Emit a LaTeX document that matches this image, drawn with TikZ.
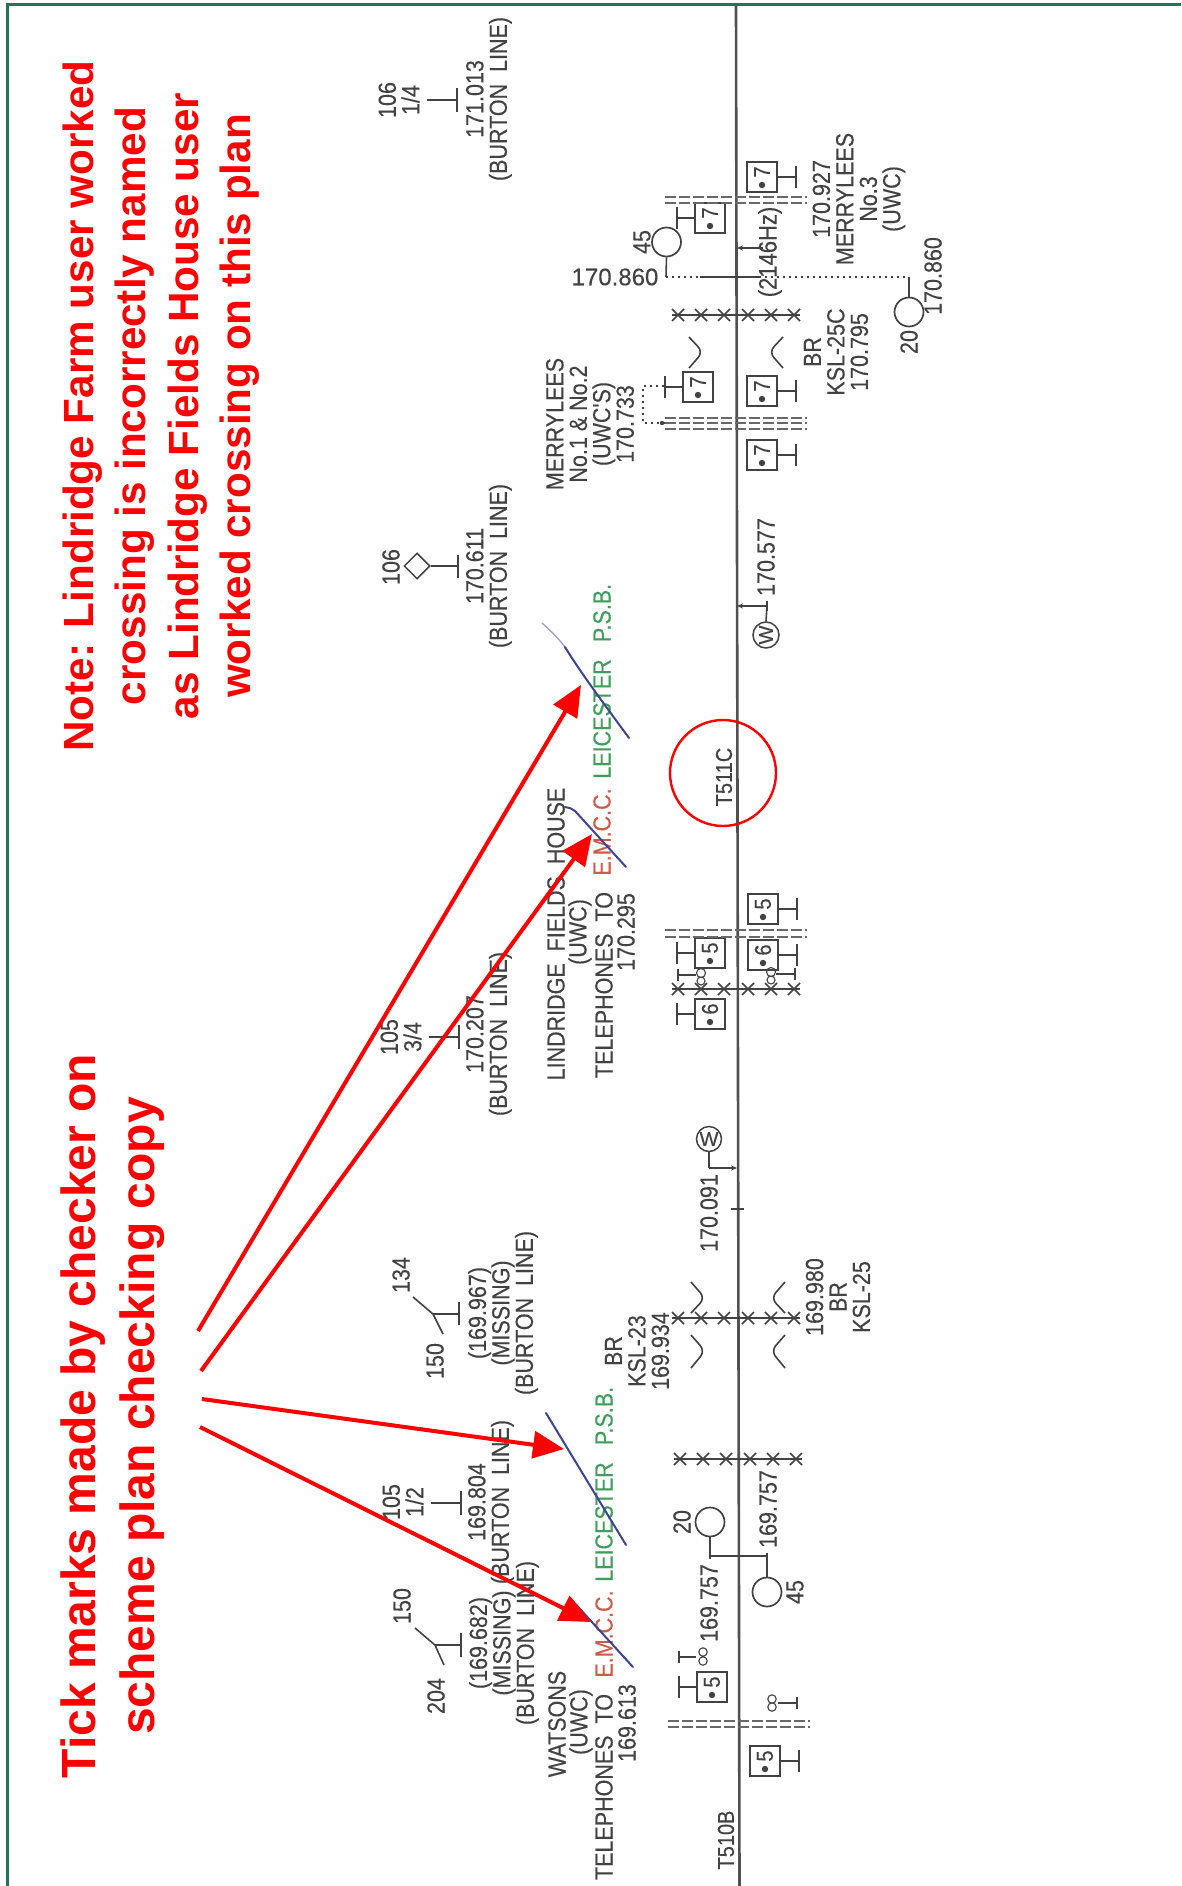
\documentclass[tikz,border=0pt]{standalone}
\usepackage{fontspec}
\setmainfont{Liberation Sans}
\newfontfamily\planfont[FakeBold=0.25]{Liberation Sans}
\usetikzlibrary{arrows.meta,shapes.geometric}
\definecolor{frameg}{HTML}{167A55}
\definecolor{ink}{HTML}{424242}
\definecolor{trk}{HTML}{505050}
\definecolor{psb}{HTML}{3F9E5C}
\definecolor{emcc}{HTML}{CF5A48}
\definecolor{tick}{HTML}{3D4590}
\tikzset{
  lbl/.style={xscale=1.15,rotate=90,align=center,inner sep=0pt,text=ink,font=\planfont\fontsize{21.5}{20.4}\selectfont},
  lblsm/.style={lbl,font=\planfont\fontsize{20}{20}\selectfont},
  hlbl/.style={inner sep=0pt,text=ink,font=\planfont\fontsize{24}{26}\selectfont},
  note/.style={rotate=90,align=center,inner sep=0pt,text=red,font=\fontsize{42.2}{52.5}\selectfont\bfseries},
  sym/.style={draw=ink,line width=1.6pt},
  sbox/.style={draw=ink,line width=1.7pt,minimum size=30pt,inner sep=0pt,rectangle},
  disc/.style={draw=ink,line width=1.7pt,ellipse,minimum width=29pt,minimum height=29pt,inner sep=0pt},
  wdisc/.style={draw=ink,line width=1.5pt,circle,minimum size=26pt,inner sep=0pt,font=\planfont\fontsize{20}{20}\selectfont,text=ink},
  gaugeline/.style={draw=ink!80,line width=1.6pt,dash pattern=on 11pt off 3pt},
  dots/.style={draw=ink,line width=1.5pt,dash pattern=on 2pt off 4pt},
  feedtip/.style={-{Stealth[length=6pt,width=5pt]}},
  bluetick/.style={draw=tick,line width=2pt,line cap=round},
  redarrow/.style={draw=red,line width=4pt,-{Triangle[length=31pt,width=27pt]}},
}
% box with the post on the track's far side
\newcommand{\boxR}[4]{%
  \node[sbox] (#1) at (#2,#3) {};
  \fill[ink] (#2,#3) ++(0,8) circle (3.2pt);
  \node[lblsm] at (#2,#3-5) {#4};
  \draw[sym] (#1.east) -- ++(18,0) ++(0,-11) -- ++(0,22);
}
\newcommand{\boxL}[4]{%
  \node[sbox] (#1) at (#2,#3) {};
  \fill[ink] (#2,#3) ++(0,8) circle (3.2pt);
  \node[lblsm] at (#2,#3-5) {#4};
  \draw[sym] (#1.west) -- ++(-17,0) ++(0,-11) -- ++(0,22);
}
\newcommand{\xrow}[2]{% y, x shift
  \draw[sym,line width=1.1pt] (672+#2,#1) -- (800+#2,#1);
  \foreach \cx in {678,701,724,748,771,794}
    \draw[sym] (\cx+#2-6,#1-6) -- (\cx+#2+6,#1+6) (\cx+#2-6,#1+6) -- (\cx+#2+6,#1-6);
}
\newcommand{\chev}[5]{% xopen, ystart, xtip, ymid, yend
  \draw[sym,rounded corners=7pt] (#1,#2) -- (#3,#4) -- (#1,#5);
}
\newcommand{\post}[4]{% x root, y, half, x end: plain T
  \draw[sym] (#1,#2) -- (#4,#2) (#4,#2-#3) -- (#4,#2+#3);
}
\begin{document}
\begin{tikzpicture}[x=1pt,y=-1pt]
\useasboundingbox (0,0) rectangle (1181,1886);
\fill[white] (0,0) rectangle (1181,1886);
% frame
\coordinate (fa) at (7.5,1886); \coordinate (fb) at (7.5,5); \coordinate (fc) at (1181,5);
\draw[frameg,line width=3pt] (fa) -- (fb) -- (fc);
% track
\coordinate (tr0) at (736,6); \coordinate (tr1) at (739.5,1886);
\draw[trk,line width=2.6pt] (tr0) -- (tr1);

% --- Burton line posts
\node[lbl] (t106q) at (399,100) {106\\1/4};
\post{427}{100}{12}{457}
\node[lbl] (t171) at (489,99) {171.013\\(BURTON~~LINE)};
\node[lbl] (t106) at (391,567) {106};
\node[draw=ink,line width=1.5pt,diamond,minimum size=26pt,inner sep=0pt] (dia) at (417,566) {};
\draw[sym] (dia.east) -- (458,566) (458,555) -- (458,578);
\node[lbl] (t1706) at (489,566) {170.611\\(BURTON~~LINE)};
\node[lbl] (t105t) at (401,1037) {105\\3/4};
\post{429}{1037}{12}{459}
\node[lbl] (t1702) at (489,1034) {170.207\\(BURTON~~LINE)};
\node[lbl] (t105h) at (403,1502) {105\\1/2};
\post{431}{1503}{12}{461}
\node[lbl] (t1698) at (491,1502) {169.804\\(BURTON~~LINE)};
% Y junctions
\node[lbl] (t134) at (401,1275) {134};
\node[lbl] (t150a) at (435,1361) {150};
\draw[sym] (413,1297) -- (433,1314) -- (443,1334) (433,1314) -- (459,1314) (459,1302) -- (459,1325);
\node[lbl] (t1699) at (503,1313) {(169.967)\\(MISSING)\\(BURTON~~LINE)};
\node[lbl] (t150b) at (402,1606) {150};
\node[lbl] (t204) at (436,1696) {204};
\draw[sym] (415,1628) -- (435,1645) -- (444,1665) (435,1645) -- (461,1645) (461,1633) -- (461,1657);
\node[lbl] (t1696) at (504,1643) {(169.682)\\(MISSING)\\(BURTON~~LINE)};

% --- Merrylees area
\boxL{b7a}{710}{218}{7}
\boxR{b7b}{762}{177}{7}
\boxL{b7c}{698}{387}{7}
\boxR{b7d}{762}{391}{7}
\boxR{b7e}{762}{455}{7}
\draw[gaugeline] (665,197) -- (807,197);
\draw[gaugeline] (665,203) -- (807,203);
\draw[gaugeline] (665,418) -- (807,418);
\draw[gaugeline] (665,423) -- (807,423);
\draw[gaugeline] (665,429) -- (807,429);
\xrow{315}{0}
\chev{689}{337}{703}{352}{368}
\chev{783}{337}{769}{352}{368}
% 45 / 20 signs at 170.860
\node[disc] (c45a) at (666.5,242) {};
\node[disc] (c20a) at (909,312) {};
\coordinate (j860a) at (666,277); \coordinate (j860b) at (700,277);
\coordinate (j860c) at (759,277); \coordinate (j860d) at (909,277);
\draw[sym] (c45a.south) -- (j860a);
\draw[dots] (j860a) -- (j860b);
\draw[sym] (j860b) -- (j860c);
\draw[dots] (j860c) -- (j860d);
\draw[sym] (j860d) -- (c20a.north);
\coordinate (hz0) at (763,248); \coordinate (hz1) at (737,248);
\draw[sym,feedtip] (hz0) -- (hz1);
\node[lbl] (t45a) at (642,242) {45};
\node[lbl] (t20a) at (909,342) {20};
\node[lbl] (t860a) at (933,276) {170.860};
\node[hlbl] (t860b) at (615,277) {170.860};
\node[lbl,font=\planfont\fontsize{22}{22}\selectfont] (thz) at (770,252) {(2146Hz)};
\node[lbl] (tm3) at (859,199) {170.927\\MERRYLEES\\No.3\\(UWC)};
\node[lbl] (tksl) at (836,352) {BR\\KSL-25C\\170.795};
\node[lbl] (tm12) at (590,424) {MERRYLEES\\No.1 \& No.2\\(UWC'S)\\170.733};
\coordinate (md0) at (664,386); \coordinate (md1) at (643,386); \coordinate (md2) at (643,423); \coordinate (md3) at (665,423);
\draw[dots] (md0) -- (md1) -- (md2) -- (md3);
\fill[ink] (md3) ++(-3,0) circle (2.2pt);

% --- 170.577
\node[lbl] (t577) at (766,557) {170.577};
\node[wdisc,rotate=90] (w577) at (766,635) {W};
\coordinate (f577) at (767,606); \coordinate (f577t) at (737,606);
\draw[sym,feedtip] (f577) -- (f577t);
\draw[sym] (w577.east) -- (f577);
\draw[sym] (767,601) -- (767,611);

% --- T511C
\node[lblsm] (t511) at (724,777) {T511C};
\node[draw=red,line width=2.4pt,circle,minimum size=106pt,inner sep=0pt] (ring) at (723,773) {};

% --- Lindridge Fields House
\boxR{b5c}{763}{909}{5}
\boxL{b5b}{710}{953}{5}
\boxR{b6c}{763}{955}{6}
\boxL{b6b}{710}{1014}{6}
\draw[gaugeline] (665,930) -- (807,930);
\draw[gaugeline] (665,937) -- (807,937);
\xrow{989}{0}
\draw[sym] (678,969) -- (678,981) (678,975) -- (696,975);
\draw[sym,line width=1.1pt] (701,973) circle (4.5pt) (701,981) circle (4pt);
\draw[sym] (795,968) -- (795,980) (795,974) -- (776,974);
\draw[sym,line width=1.1pt] (771,972) circle (4.5pt) (771,980) circle (4pt);
\node[lbl] (tlin) at (556,934) {LINDRIDGE~~FIELDS~~HOUSE};
\node[lbl] (tuwc) at (580,932) {(UWC)};
\node[lbl] (ttel) at (604,985) {TELEPHONES~~TO};
\node[lbl] (t295) at (626,932) {170.295};
\node[lbl,text=emcc] (te1) at (602,832) {E.M.C.C.};
\node[lbl,text=psb] (tl1) at (602,719) {LEICESTER};
\node[lbl,text=psb] (tp1) at (602,613) {P.S.B.};

% --- 170.091
\node[wdisc,minimum size=25pt] (w091) at (709,1139) {W};
\coordinate (f091) at (709,1168); \coordinate (f091t) at (737,1168);
\draw[sym] (w091.south) -- (f091);
\draw[sym,feedtip] (f091) -- (f091t);
\draw[sym] (731,1209) -- (744,1209);
\node[lbl] (t091) at (709,1213) {170.091};

% --- KSL-23 / KSL-25
\xrow{1318}{0}
\chev{691}{1282}{705}{1298}{1313}
\chev{691}{1335}{705}{1351}{1368}
\chev{785}{1282}{771}{1298}{1313}
\chev{785}{1335}{771}{1351}{1368}
\node[lbl] (tk23) at (637,1351) {BR\\KSL-23\\169.934};
\node[lbl] (tk25) at (838,1297) {169.980\\BR\\KSL-25};

% --- second crossing area
\xrow{1459}{2}
\node[disc] (c20b) at (710,1522) {};
\node[disc] (c45b) at (767,1592) {};
\coordinate (j757a) at (710,1556); \coordinate (j757b) at (767,1556);
\draw[sym] (c20b.south) -- (j757a) -- (j757b) -- (c45b.north);
\draw[sym] (710,1553) -- (710,1559) (767,1553) -- (767,1559);
\node[lbl] (t20b) at (682,1522) {20};
\node[lbl] (t45b) at (795,1592) {45};
\node[lbl] (t757a) at (709,1603) {169.757};
\node[lbl] (t757b) at (768,1509) {169.757};
\boxL{b5d}{712}{1687}{5}
\draw[sym] (679,1651) -- (679,1663) (679,1657) -- (696,1657);
\draw[sym,line width=1.1pt] (703,1652) circle (4.2pt) (703,1661) circle (4.2pt);
\draw[sym] (797,1697) -- (797,1709) (797,1703) -- (778,1703);
\draw[sym,line width=1.1pt] (772,1699) circle (4.2pt) (772,1707) circle (4.2pt);
\draw[gaugeline] (668,1721) -- (810,1721);
\draw[gaugeline] (668,1727) -- (810,1727);
\boxR{b5e}{765}{1761}{5}
\node[lblsm] (t510) at (726,1840) {T510B};
\node[lbl] (twat) at (557,1724) {WATSONS};
\node[lbl] (tuw2) at (581,1722) {(UWC)};
\node[lbl] (t613) at (627,1723) {169.613};
\node[lbl] (tte2) at (604,1787) {TELEPHONES~~TO};
\node[lbl,text=emcc] (te2) at (604,1634) {E.M.C.C.};
\node[lbl,text=psb] (tl2) at (604,1522) {LEICESTER};
\node[lbl,text=psb] (tp2) at (604,1416) {P.S.B.};

% --- blue tick marks
\coordinate (k1a) at (542,623); \coordinate (k1b) at (565,647); \coordinate (k1c) at (629,738);
\coordinate (k2a) at (565,807); \coordinate (k2b) at (575,811); \coordinate (k2c) at (626,867);
\coordinate (k3a) at (546,1413); \coordinate (k3b) at (626,1545);
\coordinate (k4a) at (570,1598); \coordinate (k4b) at (633,1667);
\draw[bluetick,draw=tick!50,line width=1.3pt] (k1a) .. controls (550,630) and (558,638) .. (k1b);
\draw[bluetick] (k1b) .. controls (580,672) and (610,712) .. (k1c);
\draw[bluetick] (k2a) .. controls (570,808) and (573,809) .. (k2b) -- (k2c);
\draw[bluetick] (k3a) -- (k3b);
\draw[bluetick] (k4a) -- (k4b);

% --- notes and red arrows
\node[note] (nleft) at (161,406) {Note: Lindridge Farm user worked\\crossing is incorrectly named\\as Lindridge Fields House user\\worked crossing on this plan};
\node[note,font=\fontsize{48}{59}\selectfont\bfseries] (ntick) at (113,1416) {Tick marks made by checker on\\scheme plan checking copy};
\coordinate (ra0) at (198,1331); \coordinate (ra1) at (581,685);
\coordinate (rb0) at (201,1371); \coordinate (rb1) at (592,834);
\coordinate (rc0) at (202,1399); \coordinate (rc1) at (564,1449);
\coordinate (rd0) at (200,1427); \coordinate (rd1) at (591,1622);
\draw[redarrow] (ra0) -- (ra1);
\draw[redarrow] (rb0) -- (rb1);
\draw[redarrow] (rc0) -- (rc1);
\draw[redarrow] (rd0) -- (rd1);
\end{tikzpicture}
\end{document}
